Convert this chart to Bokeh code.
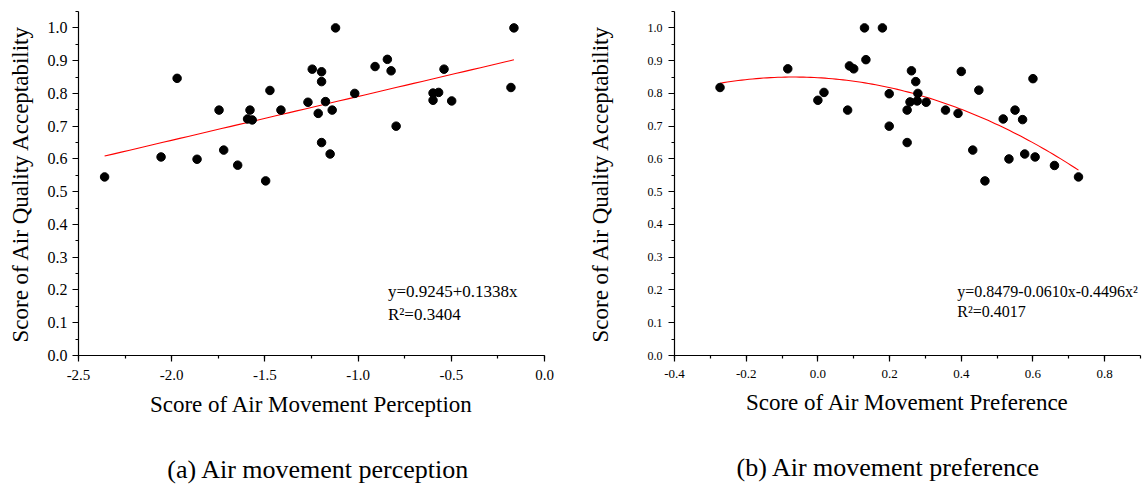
import numpy as np
from bokeh.plotting import figure
from bokeh.layouts import row
from bokeh.models import (Range1d, SingleIntervalTicker, PrintfTickFormatter, Label,
                          LinearAxis, FixedTicker)
from bokeh.embed import file_html
from bokeh.resources import INLINE

# ---------------- data ----------------
perc_x = [-2.360, -2.057, -1.971, -1.864, -1.746, -1.721, -1.646, -1.580, -1.593, -1.568,
          -1.496, -1.473, -1.414, -1.269, -1.246, -1.196, -1.196, -1.214, -1.175, -1.196,
          -1.150, -1.139, -1.121, -1.018, -0.909, -0.843, -0.823, -0.796, -0.598, -0.598,
          -0.568, -0.539, -0.498, -0.180, -0.164]
perc_y = [0.545, 0.606, 0.846, 0.599, 0.749, 0.627, 0.581, 0.749, 0.722, 0.719,
          0.533, 0.809, 0.749, 0.773, 0.874, 0.866, 0.836, 0.739, 0.775, 0.650,
          0.615, 0.749, 1.000, 0.800, 0.882, 0.904, 0.869, 0.700, 0.801, 0.779,
          0.803, 0.874, 0.777, 0.818, 1.000]

pref_x = [-0.273, -0.084, 0.000, 0.017, 0.083, 0.088, 0.100, 0.130, 0.134, 0.180,
          0.199, 0.199, 0.249, 0.249, 0.257, 0.261, 0.273, 0.279, 0.277, 0.302,
          0.356, 0.391, 0.400, 0.432, 0.449, 0.466, 0.517, 0.533, 0.550, 0.571,
          0.577, 0.600, 0.606, 0.660, 0.727]
pref_y = [0.818, 0.875, 0.779, 0.803, 0.749, 0.884, 0.875, 1.000, 0.903, 1.000,
          0.799, 0.700, 0.749, 0.650, 0.774, 0.869, 0.836, 0.800, 0.777, 0.773,
          0.749, 0.739, 0.867, 0.627, 0.810, 0.533, 0.722, 0.600, 0.749, 0.720,
          0.615, 0.845, 0.606, 0.580, 0.545]

lin_coef = [0.9245, 0.1338]            # y = a + b x
quad_coef = [0.8479, -0.0610, -0.4496]  # y = a + b x + c x^2
eq_a = ["y=0.9245+0.1338x", "R\u00b2=0.3404"]
eq_b = ["y=0.8479-0.0610x-0.4496x\u00b2", "R\u00b2=0.4017"]
x_titles = ["Score of Air Movement Perception", "Score of Air Movement Preference"]
y_title = "Score of Air Quality Acceptability"
captions = ["(a) Air movement perception", "(b) Air movement preference"]

FONT = "Liberation Serif"


def style(p, xtick_size, ytick_size, xinterval, ytick_standoff, ylab_standoff, xtitle):
    p.outline_line_color = None
    p.grid.visible = False
    p.background_fill_color = "white"
    p.border_fill_color = "white"
    for ax in (p.xaxis[0], p.yaxis[0]):
        ax.axis_line_color = "black"
        ax.axis_line_width = 1.2
        ax.major_tick_line_color = "black"
        ax.minor_tick_line_color = "black"
        ax.major_tick_line_width = 1.2
        ax.minor_tick_line_width = 1.2
        ax.major_tick_in = 0
        ax.major_tick_out = 6
        ax.minor_tick_in = 0
        ax.minor_tick_out = 3
        ax.major_label_text_font = FONT
        ax.major_label_text_color = "black"
        ax.axis_label_text_font = FONT
        ax.axis_label_text_font_style = "normal"
        ax.axis_label_text_color = "black"
        ax.axis_label_text_font_size = "23px"
        ax.formatter = PrintfTickFormatter(format="%.1f")
    xa_, ya_ = p.xaxis[0], p.yaxis[0]
    xa_.ticker = SingleIntervalTicker(interval=xinterval, num_minor_ticks=2)
    ya_.ticker = SingleIntervalTicker(interval=0.1, num_minor_ticks=2)
    xa_.major_label_text_font_size = xtick_size
    ya_.major_label_text_font_size = ytick_size
    xa_.major_label_standoff = 8
    ya_.major_label_standoff = ytick_standoff
    xa_.axis_label = xtitle
    xa_.axis_label_standoff = 9
    ya_.axis_label = y_title
    ya_.axis_label_standoff = ylab_standoff


def caption(p, text, shift_px):
    # sub-figure caption: a bare axis under the x axis whose only tick label is the caption
    x0, x1 = p.x_range.start, p.x_range.end
    frame_w = p.width - p.min_border_left - p.min_border_right
    cx = round((x0 + x1) / 2 + shift_px * (x1 - x0) / frame_w, 4)
    cap = LinearAxis(ticker=FixedTicker(ticks=[cx], minor_ticks=[]),
                     major_label_overrides={cx: text},
                     axis_line_color=None, major_tick_line_color=None,
                     minor_tick_line_color=None, major_tick_out=0, major_tick_in=0,
                     minor_tick_out=0, minor_tick_in=0, major_label_standoff=35,
                     major_label_text_font=FONT, major_label_text_font_size="26px",
                     major_label_text_color="black")
    p.add_layout(cap, "below")


# ---------------- panel (a) ----------------
pa = figure(width=584, height=486, x_range=Range1d(-2.5, 0.0), y_range=Range1d(0, 1.05),
            output_backend="svg", toolbar_location=None,
            min_border_left=78, min_border_right=40, min_border_top=11, min_border_bottom=131)
style(pa, "15px", "16px", 0.5, 5, 12, x_titles[0])
xa = np.linspace(min(perc_x), max(perc_x), 50)
pa.line(xa, lin_coef[0] + lin_coef[1] * xa, line_color="red", line_width=1.1)
pa.scatter(perc_x, perc_y, size=8.5, color="black")
pa.add_layout(Label(x=-0.84, y=0.1966, text=eq_a[0], text_font=FONT, text_font_size="17px",
                    text_color="black", text_baseline="alphabetic"))
pa.add_layout(Label(x=-0.84, y=0.1265, text=eq_a[1], text_font=FONT, text_font_size="17px",
                    text_color="black", text_baseline="alphabetic"))
caption(pa, captions[0], 7)

# ---------------- panel (b) ----------------
pb = figure(width=562, height=486, x_range=Range1d(-0.4, 0.9), y_range=Range1d(0, 1.05),
            output_backend="svg", toolbar_location=None,
            min_border_left=90, min_border_right=6, min_border_top=11, min_border_bottom=131)
style(pb, "13px", "12px", 0.2, 6, 32, x_titles[1])
xb = np.linspace(min(pref_x), max(pref_x), 100)
pb.line(xb, quad_coef[0] + quad_coef[1] * xb + quad_coef[2] * xb ** 2,
        line_color="red", line_width=1.1)
pb.scatter(pref_x, pref_y, size=8.5, color="black")
pb.add_layout(Label(x=0.389, y=0.1966, text=eq_b[0], text_font=FONT, text_font_size="16px",
                    text_color="black", text_baseline="alphabetic"))
pb.add_layout(Label(x=0.389, y=0.1357, text=eq_b[1], text_font=FONT, text_font_size="16px",
                    text_color="black", text_baseline="alphabetic"))
caption(pb, captions[1], -19)

layout = row(pa, pb)
open("out.html", "w").write(file_html(layout, INLINE))
